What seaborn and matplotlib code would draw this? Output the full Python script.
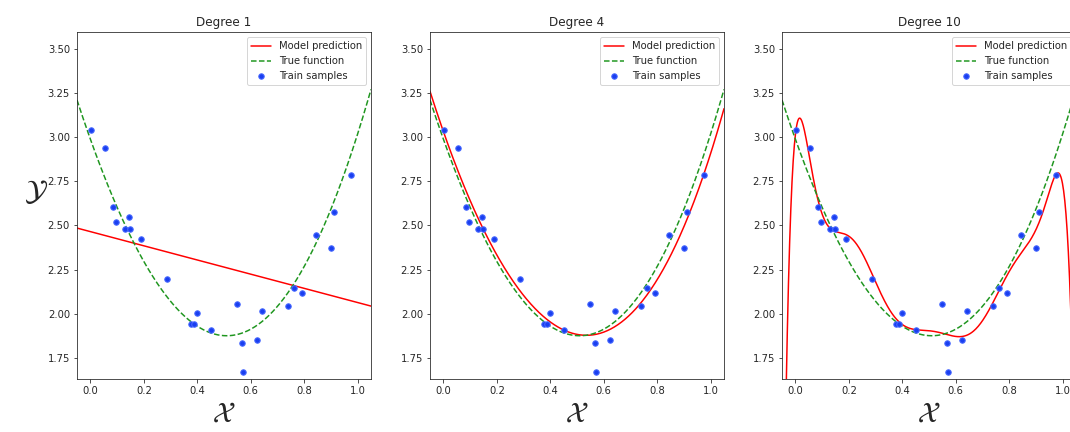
import numpy as np
import matplotlib
matplotlib.use("Agg")
import matplotlib.pyplot as plt
import seaborn as sns

sns.set_style("ticks")
plt.rcParams['font.family'] = ['DejaVu Sans']

# training samples
x_train = [0.003, 0.053, 0.085, 0.095, 0.129, 0.144, 0.149, 0.191, 0.288,
           0.378, 0.386, 0.398, 0.450, 0.550, 0.566, 0.571, 0.623, 0.643,
           0.738, 0.763, 0.791, 0.845, 0.901, 0.910, 0.974]
y_train = [3.040, 2.940, 2.605, 2.518, 2.481, 2.547, 2.481, 2.424, 2.199,
           1.944, 1.944, 2.001, 1.909, 2.054, 1.835, 1.669, 1.850, 2.016,
           2.045, 2.147, 2.118, 2.445, 2.373, 2.575, 2.787]

degrees = [1, 4, 10]
titles = ["Degree 1", "Degree 4", "Degree 10"]

# true function (vertex form with small cubic term)
true_vertex_x = 0.51
true_vertex_y = 1.875
true_quad = 4.525
true_cubic = 0.479

xticks = [0.0, 0.2, 0.4, 0.6, 0.8, 1.0]
yticks = [1.75, 2.00, 2.25, 2.50, 2.75, 3.00, 3.25, 3.50]


def true_fun(x):
    u = x - true_vertex_x
    return true_vertex_y + true_quad * u ** 2 + true_cubic * u ** 3


W, H = 1070, 432
fig = plt.figure(figsize=(W / 72, H / 72), dpi=72)
lefts = [77, 430, 782]
xs = np.asarray(x_train)
ys = np.asarray(y_train)
grid = np.linspace(-0.05, 1.05, 500)

for i, (deg, title) in enumerate(zip(degrees, titles)):
    ax = fig.add_axes([lefts[i] / W, 53 / H, 294 / W, 347 / H])
    coefs = np.polyfit(xs, ys, deg)
    sns.lineplot(x=grid, y=np.polyval(coefs, grid), color="red",
                 label="Model prediction", ax=ax, linewidth=1.5)
    sns.lineplot(x=grid, y=true_fun(grid), color="#1f961f", linestyle="--",
                 label="True function", ax=ax, linewidth=1.5)
    sns.scatterplot(x=xs, y=ys, color="#1a3ff0", edgecolor="#4a6bff",
                    s=30, linewidth=1, label="Train samples", ax=ax, zorder=3)
    ax.set_xlim(-0.05, 1.05)
    ax.set_ylim(1.63, 3.595)
    ax.set_xticks(xticks)
    ax.set_yticks(yticks)
    ax.set_yticklabels([f"{v:.2f}" for v in yticks])
    ax.set_xticklabels([f"{v:.1f}" for v in xticks])
    ax.set_title(title, fontsize=12)
    ax.set_xlabel(r"$\mathcal{X}$", fontsize=29, labelpad=4)
    if i == 0:
        ax.set_ylabel(r"$\mathcal{Y}$", fontsize=29, rotation=0, labelpad=12)
    else:
        ax.set_ylabel("")
    ax.tick_params(labelsize=10)
    ax.legend(loc="upper right", fontsize=10)

fig.savefig("out.png", dpi=72)
